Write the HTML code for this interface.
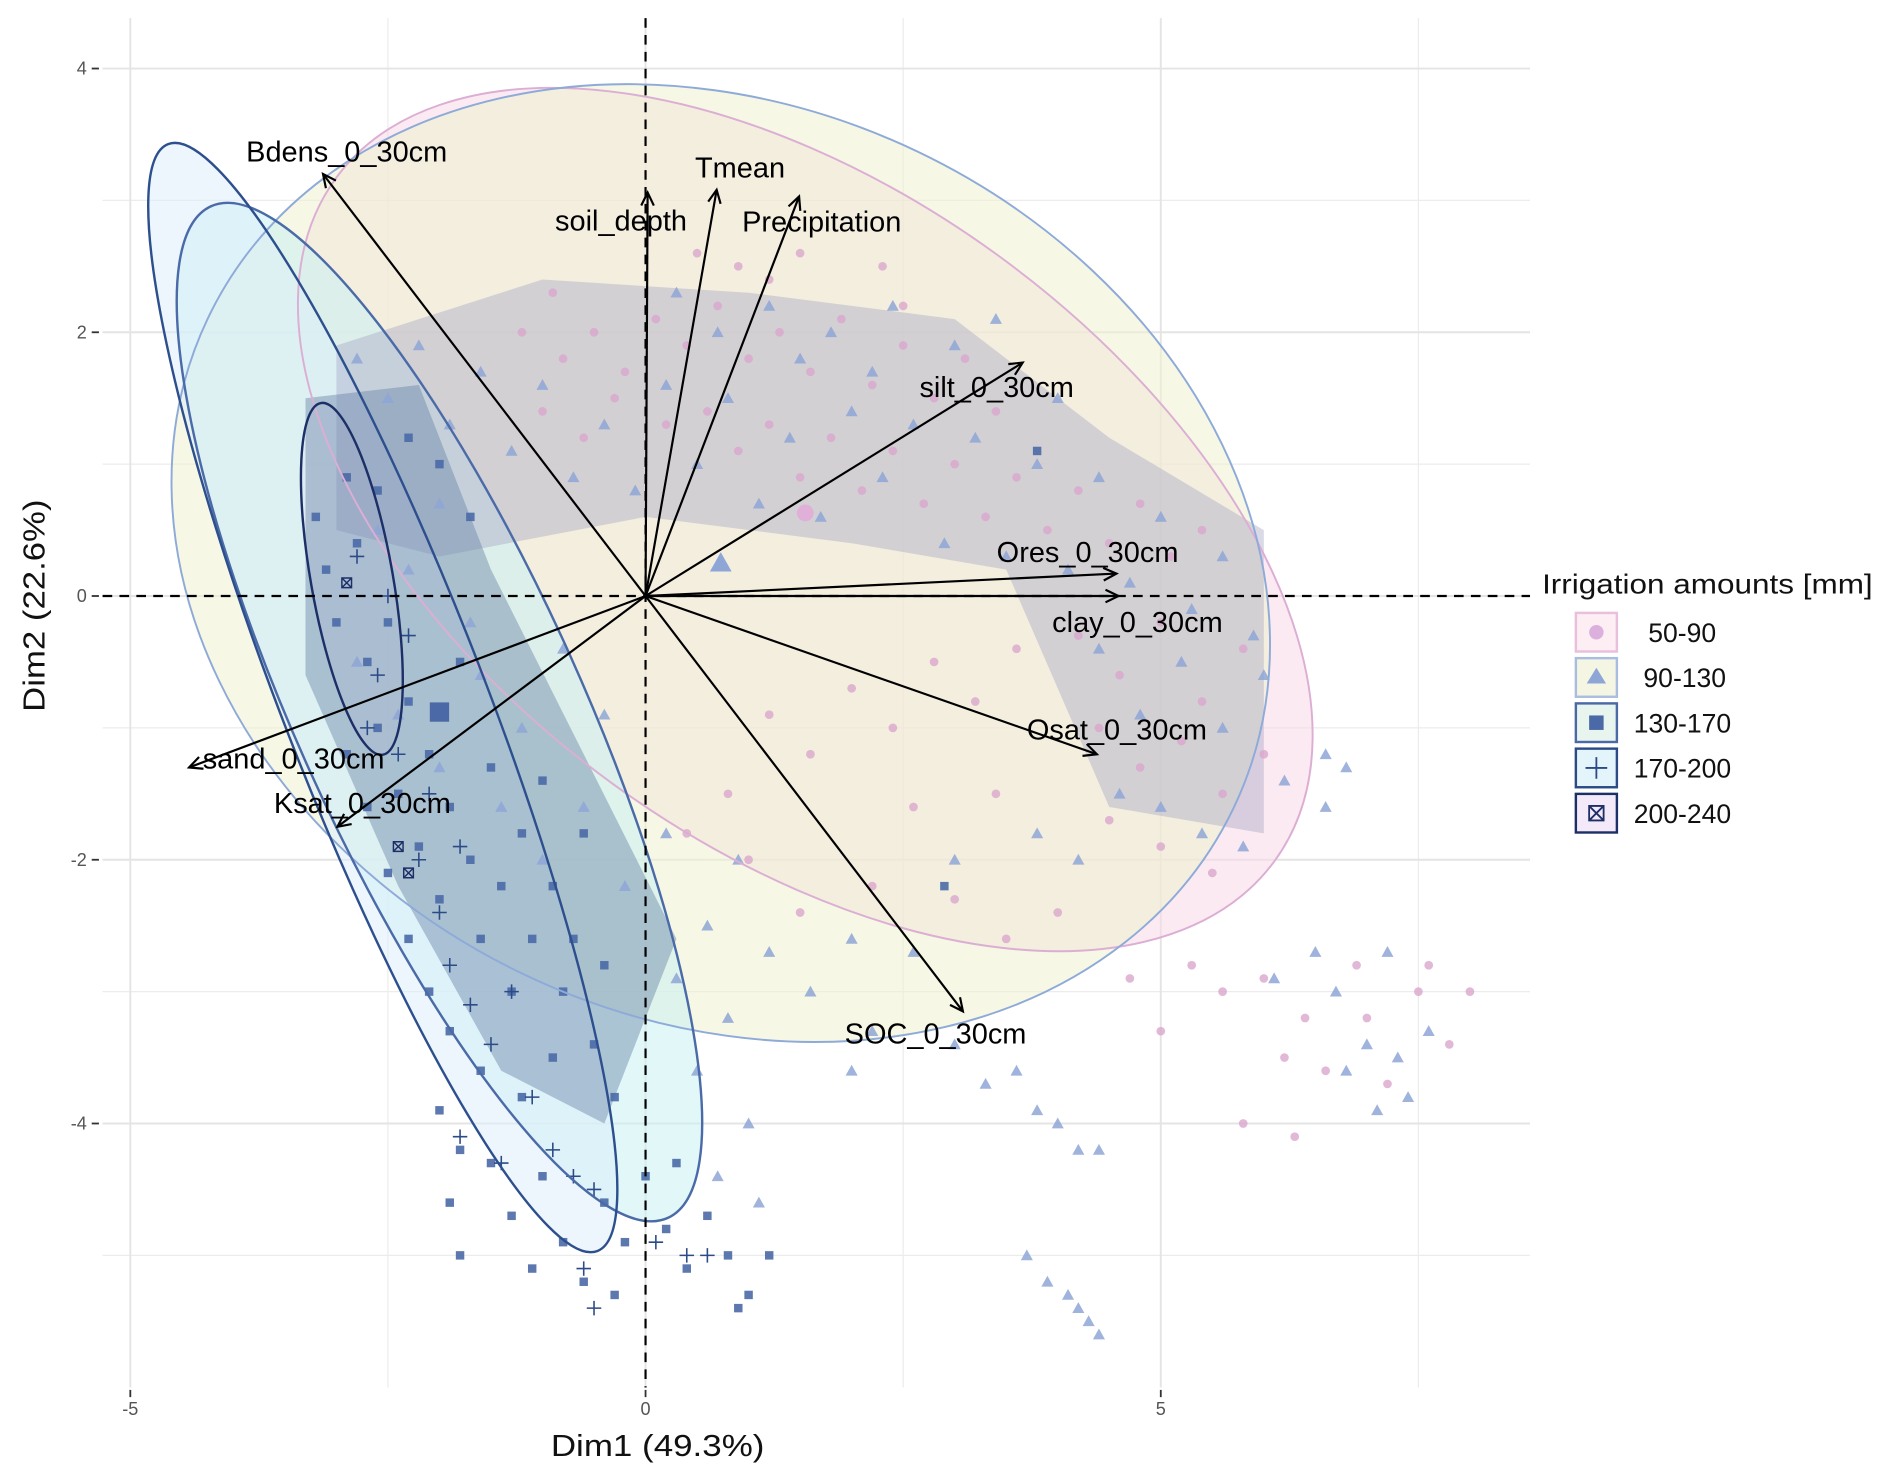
<!DOCTYPE html>
<html><head><meta charset="utf-8"><style>
html,body{margin:0;padding:0;background:#fff;}
svg{display:block;font-family:"Liberation Sans",sans-serif;}
</style></head><body>
<svg id="chart" width="1892" height="1484" viewBox="0 0 1568 1230" preserveAspectRatio="none" xmlns="http://www.w3.org/2000/svg">
<g id="grid"></g>
<g id="ellFill"></g>
<g id="pts"></g>
<g id="ellLine"></g>
<g id="axesRef"></g>
<g id="arrows"></g>
<g id="ticks"></g>
<text x="545" y="1207" font-size="25" textLength="177" lengthAdjust="spacingAndGlyphs" text-anchor="middle" fill="#111">Dim1 (49.3%)</text>
<text transform="translate(37,502) rotate(-90)" font-size="25" textLength="176" lengthAdjust="spacingAndGlyphs" text-anchor="middle" fill="#111">Dim2 (22.6%)</text>
<g id="legend"></g>
</svg>
<script>
const NS="http://www.w3.org/2000/svg";
const X=v=>535+v*85.4;
const Y=v=>494-v*109.3;
const xTicks=[-5,0,5];
const yTicks=[4,2,0,-2,-4];
const xMinor=[-2.5,2.5,7.5];
const yMinor=[3,1,-1,-3,-5];
const groups=["50-90","90-130","130-170","170-200","200-240"];
const ellCx=[1.55,0.73,-2.0,-2.55,-2.85];
const ellCy=[0.58,0.25,-0.88,-0.77,0.13];
const ellA=[481,471,460,492,148];
const ellB=[271,378,118,84,34];
const ellAng=[36,25.5,65.7,68.8,80];
const ellFillC=["#f7d9e6","#eef0cf","#c9f0f2","#dceffa","#dfe6f2"];
const ellStrokeC=["#dcaed4","#8eaad8","#4a6aa8","#2d4f8e","#1c2f66"];
const varNames=["Bdens_0_30cm","soil_depth","Tmean","Precipitation","silt_0_30cm","Ores_0_30cm","clay_0_30cm","Osat_0_30cm","SOC_0_30cm","sand_0_30cm","Ksat_0_30cm"];
const varX=[-3.13,0.02,0.69,1.49,3.66,4.57,4.59,4.38,3.08,-4.43,-2.99];
const varY=[3.2,3.06,3.08,3.03,1.77,0.17,0.0,-1.2,-3.15,-1.3,-1.75];
const labX=[204,460,576,615,762,826,872,851,700,168,227];
const labY=[134,191,147,192,329,466,524,613,865,637,674];
const g1=[[-0.8,1.8],[-0.5,2.0],[-0.2,1.7],[0.1,2.1],[0.4,1.9],[0.7,2.2],[1.0,1.8],[1.3,2.0],[1.6,1.7],[1.9,2.1],[2.2,1.6],[2.5,1.9],[2.8,1.5],[3.1,1.8],[3.4,1.4],[-1.0,1.4],[-0.6,1.2],[-0.3,1.5],[0.2,1.3],[0.6,1.4],[0.9,1.1],[1.2,1.3],[1.5,0.9],[1.8,1.2],[2.1,0.8],[2.4,1.1],[2.7,0.7],[3.0,1.0],[3.3,0.6],[3.6,0.9],[3.9,0.5],[4.2,0.8],[4.5,0.4],[4.8,0.7],[5.1,0.3],[5.4,0.5],[0.5,2.6],[0.9,2.5],[1.2,2.4],[1.5,2.6],[2.3,2.5],[2.5,2.2],[-1.2,2.0],[-0.9,2.3],[4.2,-0.3],[4.6,-0.6],[5.0,-0.2],[5.4,-0.8],[5.8,-0.4],[4.4,-1.0],[4.8,-1.3],[5.2,-1.1],[5.6,-1.5],[6.0,-1.2],[4.5,-1.7],[5.0,-1.9],[5.5,-2.1],[3.6,-0.4],[3.2,-0.8],[2.8,-0.5],[2.4,-1.0],[2.0,-0.7],[1.6,-1.2],[1.2,-0.9],[0.8,-1.5],[0.4,-1.8],[1.0,-2.0],[1.5,-2.4],[2.2,-2.2],[3.0,-2.3],[3.5,-2.6],[4.0,-2.4],[2.6,-1.6],[3.4,-1.5],[4.7,-2.9],[5.0,-3.3],[5.3,-2.8],[5.6,-3.0],[6.0,-2.9],[6.2,-3.5],[6.4,-3.2],[6.6,-3.6],[7.0,-3.2],[7.2,-3.7],[7.5,-3.0],[7.8,-3.4],[8.0,-3.0],[7.6,-2.8],[6.9,-2.8],[5.8,-4.0],[6.3,-4.1]];
const g2=[[-2.8,1.8],[-2.5,1.5],[-2.2,1.9],[-1.9,1.3],[-1.6,1.7],[-1.3,1.1],[-1.0,1.6],[-0.7,0.9],[-0.4,1.3],[-0.1,0.8],[0.2,1.6],[0.5,1.0],[0.8,1.5],[1.1,0.7],[1.4,1.2],[1.7,0.6],[2.0,1.4],[2.3,0.9],[2.6,1.3],[2.9,0.4],[3.2,1.2],[3.5,0.3],[3.8,1.0],[4.1,0.2],[4.4,0.9],[4.7,0.1],[5.0,0.6],[5.3,-0.1],[5.6,0.3],[5.9,-0.3],[0.3,2.3],[0.7,2.0],[1.2,2.2],[1.8,2.0],[2.4,2.2],[3.0,1.9],[3.4,2.1],[1.5,1.8],[2.2,1.7],[4.0,1.5],[-2.6,0.5],[-2.3,0.2],[-2.0,0.7],[-1.7,-0.2],[-2.8,-0.5],[-2.4,-0.9],[-2.0,-1.3],[-1.6,-0.6],[-1.2,-1.0],[-0.8,-0.4],[-0.4,-0.9],[-1.4,-1.6],[-1.0,-2.0],[-0.6,-1.6],[-0.2,-2.2],[0.2,-1.8],[0.6,-2.5],[0.9,-2.0],[0.3,-2.9],[0.8,-3.2],[1.2,-2.7],[0.5,-3.6],[1.0,-4.0],[0.7,-4.4],[1.1,-4.6],[4.4,-0.4],[4.8,-0.9],[5.2,-0.5],[5.6,-1.0],[6.0,-0.6],[4.6,-1.5],[5.0,-1.6],[5.4,-1.8],[5.8,-1.9],[6.2,-1.4],[6.6,-1.6],[4.2,-2.0],[3.8,-1.8],[3.0,-2.0],[2.6,-2.7],[2.0,-2.6],[1.6,-3.0],[2.2,-3.3],[2.0,-3.6],[3.0,-3.4],[3.3,-3.7],[3.6,-3.6],[3.8,-3.9],[4.0,-4.0],[4.2,-4.2],[4.4,-4.2],[3.7,-5.0],[3.9,-5.2],[4.1,-5.3],[4.3,-5.5],[4.4,-5.6],[4.2,-5.4],[6.5,-2.7],[6.7,-3.0],[7.0,-3.4],[7.3,-3.5],[7.1,-3.9],[7.4,-3.8],[6.8,-3.6],[7.6,-3.3],[6.1,-2.9],[7.2,-2.7],[6.6,-1.2],[6.8,-1.3]];
const g3=[[-3.2,0.6],[-3.1,0.2],[-3.0,-0.2],[-2.9,0.9],[-2.8,0.4],[-2.7,-0.5],[-2.6,-1.0],[-2.5,-0.2],[-2.4,-1.5],[-2.3,-0.8],[-2.2,-1.9],[-2.1,-1.2],[-2.0,-2.3],[-1.9,-1.6],[-1.8,-0.5],[-1.7,-2.0],[-1.6,-2.6],[-1.5,-1.3],[-1.4,-2.2],[-1.3,-3.0],[-1.2,-1.8],[-1.1,-2.6],[-1.0,-1.4],[-0.9,-2.2],[-0.8,-3.0],[-0.7,-2.6],[-0.6,-1.8],[-0.5,-3.4],[-0.4,-2.8],[-0.3,-3.8],[-2.6,0.8],[-2.3,1.2],[-2.0,1.0],[-1.7,0.6],[-2.9,-1.2],[-2.7,-1.6],[-2.5,-2.1],[-2.3,-2.6],[-2.1,-3.0],[-1.9,-3.3],[-1.6,-3.6],[-1.2,-3.8],[-0.9,-3.5],[-2.0,-3.9],[-1.8,-4.2],[-1.9,-4.6],[-1.8,-5.0],[-1.5,-4.3],[-1.3,-4.7],[-1.0,-4.4],[-0.8,-4.9],[-0.6,-5.2],[-0.4,-4.6],[-0.2,-4.9],[0.0,-4.4],[0.2,-4.8],[0.4,-5.1],[0.6,-4.7],[0.8,-5.0],[1.0,-5.3],[1.2,-5.0],[-1.1,-5.1],[-0.3,-5.3],[0.3,-4.3],[2.9,-2.2],[3.8,1.1],[0.9,-5.4]];
const g4=[[-2.8,0.3],[-2.6,-0.6],[-2.4,-1.2],[-2.3,-0.3],[-2.2,-2.0],[-2.1,-1.5],[-2.0,-2.4],[-1.9,-2.8],[-1.8,-1.9],[-1.7,-3.1],[-1.5,-3.4],[-1.3,-3.0],[-1.1,-3.8],[-0.9,-4.2],[-0.7,-4.4],[-0.5,-4.5],[-1.8,-4.1],[-1.4,-4.3],[-0.6,-5.1],[-0.5,-5.4],[0.1,-4.9],[0.4,-5.0],[0.6,-5.0],[-2.5,0.0],[-2.7,-1.0]];
const g5=[[-2.9,0.1],[-2.3,-2.1],[-2.4,-1.9]];
const hazeBand=[[-3,1.9],[-1,2.4],[1,2.3],[3,2.1],[4.5,1.2],[6,0.5],[6,-1.8],[4.5,-1.6],[3.5,0.2],[2,0.4],[0,0.6],[-2,0.3],[-3,0.5]];
const hazeLeft=[[-3.3,1.5],[-2.2,1.6],[-1.5,0.2],[-0.6,-1.2],[0.3,-2.6],[-0.4,-4],[-1.4,-3.6],[-2.4,-2.2],[-3.3,-0.6]];

function el(t,a,p){const e=document.createElementNS(NS,t);for(const k in a)e.setAttribute(k,a[k]);p.appendChild(e);return e;}
const grid=document.getElementById('grid');
xMinor.forEach(v=>{const l=el('line',{x1:X(v),x2:X(v),y1:15,y2:1150,stroke:'#ececec','stroke-width':1},grid);

});
yMinor.forEach(v=>{const l=el('line',{x1:85,x2:1268,y1:Y(v),y2:Y(v),stroke:'#ececec','stroke-width':1},grid);

});
xTicks.forEach(v=>{const l=el('line',{x1:X(v),x2:X(v),y1:15,y2:1150,stroke:'#e4e4e4','stroke-width':1.6},grid);

});
yTicks.forEach(v=>{const l=el('line',{x1:85,x2:1268,y1:Y(v),y2:Y(v),stroke:'#e4e4e4','stroke-width':1.6},grid);

});
const tk=document.getElementById('ticks');
xTicks.forEach(v=>{const l=el('line',{x1:X(v),x2:X(v),y1:1152,y2:1158,stroke:'#333','stroke-width':1.5},tk);


const t=el('text',{x:X(v),y:1173,'font-size':15,fill:'#555','text-anchor':'middle'},tk);t.textContent=v;

});
yTicks.forEach(v=>{const l=el('line',{x1:76,x2:82,y1:Y(v),y2:Y(v),stroke:'#333','stroke-width':1.5},tk);


const t=el('text',{x:72,y:Y(v)+5,'font-size':15,fill:'#555','text-anchor':'end'},tk);t.textContent=v;

});

const ef=document.getElementById('ellFill'),elL=document.getElementById('ellLine');
for(let i=0;i<groups.length;i++){
 const cx=X(ellCx[i]),cy=Y(ellCy[i]);
 const f=el('ellipse',{cx:cx,cy:cy,rx:ellA[i],ry:ellB[i],transform:`rotate(${ellAng[i]} ${cx} ${cy})`,fill:ellFillC[i],'fill-opacity':0.55},ef);
 
 
 const o=el('ellipse',{cx:cx,cy:cy,rx:ellA[i],ry:ellB[i],transform:`rotate(${ellAng[i]} ${cx} ${cy})`,fill:'none',stroke:ellStrokeC[i],'stroke-width':i>=2?2:1.6},elL);
 
 
}
const P=document.getElementById('pts');
function poly(arr,col,op,name){const h=el('polygon',{points:arr.map(p=>X(p[0])+','+Y(p[1])).join(' '),fill:col,'fill-opacity':op,'stroke-linejoin':'round'},P);

}
poly(hazeBand,'#a3a3c4',0.4,'dense-cloud-upper');
poly(hazeLeft,'#6a86a8',0.45,'dense-cloud-left');
g1.forEach(p=>{const c=el('circle',{cx:X(p[0]),cy:Y(p[1]),r:3.6,fill:'#d9a6cc','fill-opacity':0.8},P);

});
g2.forEach(p=>{const x=X(p[0]),y=Y(p[1]);const c=el('polygon',{points:`${x},${y-5} ${x-5},${y+4} ${x+5},${y+4}`,fill:'#8ea6d6','fill-opacity':0.85},P);

});
g3.forEach(p=>{const c=el('rect',{x:X(p[0])-3.5,y:Y(p[1])-3.5,width:7,height:7,fill:'#4a69a6','fill-opacity':0.9},P);

});
g4.forEach(p=>{const x=X(p[0]),y=Y(p[1]);const c=el('path',{d:`M${x-6},${y}H${x+6}M${x},${y-6}V${y+6}`,stroke:'#2b4a86','stroke-width':1.3},P);

});
g5.forEach(p=>{const x=X(p[0]),y=Y(p[1]);const c=el('path',{d:`M${x-4},${y-4}h8v8h-8zM${x-4},${y-4}l8,8M${x+4},${y-4}l-8,8`,stroke:'#1c2f66','stroke-width':1.2,fill:'none'},P);

});
// group centroids
let cm=el('circle',{cx:X(1.55),cy:Y(0.63),r:7,fill:'#e0b0d8'},P);


cm=el('polygon',{points:`${X(0.73)},${Y(0.25)-9} ${X(0.73)-9},${Y(0.25)+7} ${X(0.73)+9},${Y(0.25)+7}`,fill:'#8ea6d6'},P);


cm=el('rect',{x:X(-2.0)-8,y:Y(-0.88)-8,width:16,height:16,fill:'#4a69a6'},P);



const ar=document.getElementById('axesRef');
let l=el('line',{x1:85,x2:1268,y1:Y(0),y2:Y(0),stroke:'#000','stroke-width':1.8,'stroke-dasharray':'8,6'},ar);


l=el('line',{x1:X(0),x2:X(0),y1:15,y2:1150,stroke:'#000','stroke-width':1.8,'stroke-dasharray':'8,6'},ar);



const A=document.getElementById('arrows');
varNames.forEach((n,i)=>{const x1=X(0),y1=Y(0),x2=X(varX[i]),y2=Y(varY[i]);
 const ln=el('line',{x1:x1,y1:y1,x2:x2,y2:y2,stroke:'#000','stroke-width':1.8},A);
 
 
 const ang=Math.atan2(y2-y1,x2-x1),h=12,s=0.45;
 const hd=el('path',{d:`M${x2-h*Math.cos(ang-s)},${y2-h*Math.sin(ang-s)}L${x2},${y2}L${x2-h*Math.cos(ang+s)},${y2-h*Math.sin(ang+s)}`,stroke:'#000','stroke-width':1.8,fill:'none'},A);
 
 
 const t=el('text',{x:labX[i],y:labY[i],'font-size':24,fill:'#000'},A);t.textContent=n;
 
 
});

const L=document.getElementById('legend');
const lt=el('text',{x:1278,y:492,'font-size':23,fill:'#111',textLength:274,lengthAdjust:'spacingAndGlyphs'},L);lt.textContent='Irrigation amounts [mm]';


const keyFill=['#fdeef3','#f4f5e3','#e7f5ee','#e3f4fb','#f4e9f8'];
const keyStroke=['#e8bfdc','#a9bde0','#4a69a6','#2b4a86','#1c2f66'];
groups.forEach((g,i)=>{const cy=524+i*37.5,x=1306;
 const r=el('rect',{x:x,y:cy-16,width:34,height:32,fill:keyFill[i],stroke:keyStroke[i],'stroke-width':2},L);
 
 
 const cx=x+17;let m;
 if(i==0)m=el('circle',{cx:cx,cy:cy,r:6,fill:'#dcb0dc'},L);
 else if(i==1)m=el('polygon',{points:`${cx},${cy-8} ${cx-8},${cy+5} ${cx+8},${cy+5}`,fill:'#8ea6d6'},L);
 else if(i==2)m=el('rect',{x:cx-6,y:cy-6,width:12,height:12,fill:'#4a69a6'},L);
 else if(i==3)m=el('path',{d:`M${cx-9},${cy}H${cx+9}M${cx},${cy-9}V${cy+9}`,stroke:'#2b4a86','stroke-width':1.5},L);
 else m=el('path',{d:`M${cx-6},${cy-6}h12v12h-12zM${cx-6},${cy-6}l12,12M${cx+6},${cy-6}l-12,12`,stroke:'#1c2f66','stroke-width':1.5,fill:'none'},L);
 
 
 const t=el('text',{x:i<2?1366+(i==0?0:-4):1354,y:cy+8,'font-size':22,fill:'#111'},L);t.textContent=g;
 
 
});
</script>
</body></html>
